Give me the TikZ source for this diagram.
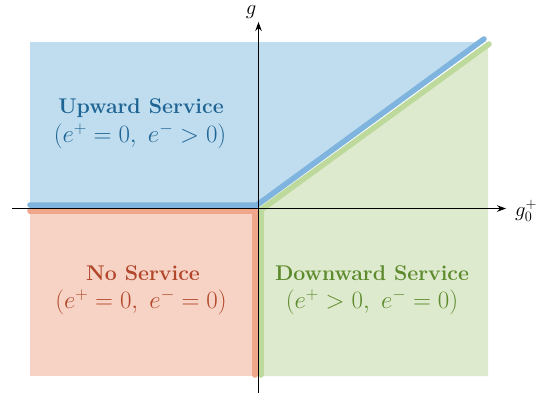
\documentclass[tikz,border=0pt]{standalone}
\usetikzlibrary{arrows.meta}
\definecolor{bfill}{HTML}{BFDDEE}
\definecolor{bline}{HTML}{7EB4DE}
\definecolor{btext}{HTML}{1E6494}
\definecolor{rfill}{HTML}{F6D3C4}
\definecolor{rline}{HTML}{EFA68B}
\definecolor{rtext}{HTML}{B2462A}
\definecolor{gfill}{HTML}{DEEACD}
\definecolor{gline}{HTML}{BDD99B}
\definecolor{gtext}{HTML}{5C8A2C}
\tikzset{
  band/.style={line width=5.5pt, line cap=round, line join=round},
  axis/.style={line width=1.1pt, -{Stealth[length=9pt,width=6.5pt]}},
  title/.style={font=\fontsize{21.3}{25}\selectfont\bfseries, inner sep=0pt},
  cond/.style={font=\fontsize{23.6}{28}\selectfont, inner sep=0pt},
  axlab/.style={font=\fontsize{21}{25}\selectfont, inner sep=0pt},
}
\begin{document}
\begin{tikzpicture}[x=1pt,y=-1pt]
\useasboundingbox (0,0) rectangle (551,400);
% regions
\fill[bfill] (30,42) -- (484,42) -- (258,208) -- (30,208) -- cycle;
\fill[rfill] (30,208) rectangle (258,376);
\fill[gfill] (258,208) -- (488,44) -- (488,376) -- (258,376) -- cycle;
% boundary bands
\coordinate (r0) at (30,211);
\coordinate (r1) at (255,211);
\coordinate (r2) at (255,375);
\draw[band, rline] (r0) -- (r1) -- (r2);
\coordinate (g0) at (261,375);
\coordinate (g1) at (261,210);
\coordinate (g2) at (489,44);
\draw[band, gline] (g0) -- (g1) -- (g2);
\coordinate (b0) at (30,205);
\coordinate (b1) at (257,205);
\coordinate (b2) at (484,39);
\draw[band, bline] (b0) -- (b1) -- (b2);
% axes
\coordinate (xs) at (12,208.5);
\coordinate (xe) at (506,208.5);
\coordinate (ys) at (258.5,393);
\coordinate (ye) at (258.5,22);
\draw[axis] (xs) -- (xe);
\draw[axis] (ys) -- (ye);
\node[axlab] (xl) at (526,211) {$g_0^+$};
\node[axlab] (yl) at (251,12) {$g$};
% labels
\node[title, text=btext] (ut) at (141,108) {Upward Service};
\node[cond, text=btext] (uc) at (140,136) {$(e^+=0,\ e^->0)$};
\node[title, text=rtext] (nt) at (143,273) {No Service};
\node[cond, text=rtext] (nc) at (141,302) {$(e^+=0,\ e^-=0)$};
\node[title, text=gtext] (dt) at (372,273) {Downward Service};
\node[cond, text=gtext] (dc) at (372,302) {$(e^+>0,\ e^-=0)$};
\end{tikzpicture}
\end{document}
